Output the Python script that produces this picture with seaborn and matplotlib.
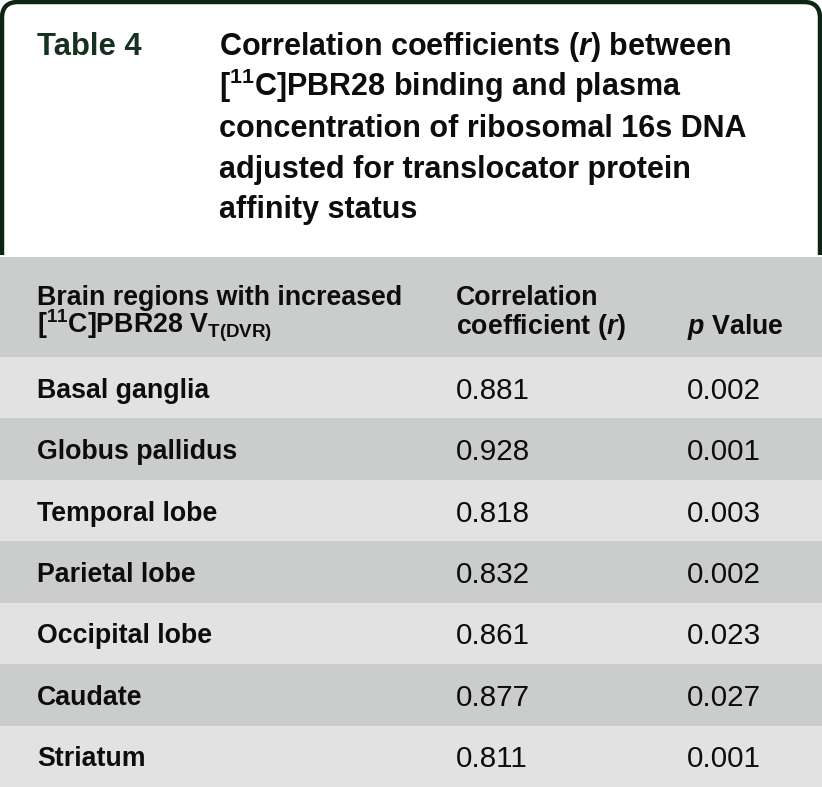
import numpy as np
import matplotlib
matplotlib.use('Agg')
import matplotlib.pyplot as plt
import matplotlib.transforms as mtransforms
from matplotlib.colors import ListedColormap
from matplotlib.patches import FancyBboxPatch, Rectangle
import seaborn as sns

# data
regions = ['Basal ganglia', 'Globus pallidus', 'Temporal lobe', 'Parietal lobe',
           'Occipital lobe', 'Caudate', 'Striatum']
r_values = [0.881, 0.928, 0.818, 0.832, 0.861, 0.877, 0.811]
p_values = [0.002, 0.001, 0.003, 0.002, 0.023, 0.027, 0.001]

title_lines = [
    r'Correlation coefficients ($\mathit{r}$) between',
    r'[$^{11}$C]PBR28 binding and plasma',
    r'concentration of ribosomal 16s DNA',
    r'adjusted for translocator protein',
    r'affinity status',
]

sns.set_theme(style='white')
FONT = 'Liberation Sans'
plt.rcParams['font.family'] = [FONT, 'DejaVu Sans']
plt.rcParams['mathtext.fontset'] = 'custom'
plt.rcParams['mathtext.rm'] = FONT + ':bold'
plt.rcParams['mathtext.bf'] = FONT + ':bold'
plt.rcParams['mathtext.it'] = FONT + ':italic:bold'

W, H = 822, 787
fig = plt.figure(figsize=(W / 100, H / 100), dpi=100)
fig.patch.set_facecolor('white')

DARK_GREEN = '#0c2414'
GREEN_TXT = '#16311f'
GRAY = '#cbcdcc'
LIGHT = '#e2e2e3'
TXT = '#0d0d0d'
FS_TITLE = 22
FS = 19.3
FS_NUM = 21.3

# overlay axes in pixel coordinates (title box + header text)
ov = fig.add_axes([0, 0, 1, 1], zorder=3)
ov.set_xlim(0, W)
ov.set_ylim(H, 0)
ov.axis('off')
ov.patch.set_alpha(0)

box = FancyBboxPatch((2, 2), W - 4, 320, boxstyle='round,pad=0,rounding_size=16',
                     fill=False, ec=DARK_GREEN, lw=3.2)
ov.add_patch(box)
clip = Rectangle((0, 0), W, 255, transform=ov.transData)
box.set_clip_path(clip)

ov.text(37, 55, 'Table 4', fontsize=22.3, fontweight='bold', color=GREEN_TXT, va='baseline')
title_base = [55, 96, 137, 178, 218]
for line, yb in zip(title_lines, title_base):
    ov.text(219, yb, line, fontsize=FS_TITLE, fontweight='bold', color=TXT, va='baseline')

# header band
hdr = fig.add_axes([0, (H - 357) / H, 1, 100 / H], zorder=1)
hdr.set_facecolor(GRAY)
hdr.set_xticks([])
hdr.set_yticks([])
for s in hdr.spines.values():
    s.set_visible(False)

ov.text(37, 305, 'Brain regions with increased', fontsize=FS, fontweight='bold', color=TXT, va='baseline')
ov.text(37, 334, r'[$^{11}$C]PBR28 V$_{\mathrm{T(DVR)}}$', fontsize=FS, fontweight='bold', color=TXT, va='baseline')
ov.text(456, 305, 'Correlation', fontsize=FS, fontweight='bold', color=TXT, va='baseline')
ov.text(456, 334, r'coefficient ($\mathit{r}$)', fontsize=FS, fontweight='bold', color=TXT, va='baseline')
ov.text(687, 334, r'$\mathit{p}$ Value', fontsize=FS, fontweight='bold', color=TXT, va='baseline')

# body stripes drawn with a seaborn heatmap
body = fig.add_axes([0, 0, 1, 430 / H], zorder=2)
stripes = np.array([[i % 2] for i in range(len(regions))])
sns.heatmap(stripes, ax=body, cmap=ListedColormap([LIGHT, GRAY]), cbar=False,
            xticklabels=False, yticklabels=False, linewidths=0)

trans = mtransforms.blended_transform_factory(fig.transFigure, body.transData)
for i, (name, r, p) in enumerate(zip(regions, r_values, p_values)):
    y = i + 0.5
    body.text(37 / W, y, name, transform=trans, fontsize=FS, fontweight='bold',
              color=TXT, va='center_baseline')
    body.text(456 / W, y, f'{r:.3f}', transform=trans, fontsize=FS_NUM, color=TXT,
              va='center_baseline')
    body.text(687 / W, y, f'{p:.3f}', transform=trans, fontsize=FS_NUM, color=TXT,
              va='center_baseline')

fig.savefig('out.png', dpi=100, facecolor='white')
